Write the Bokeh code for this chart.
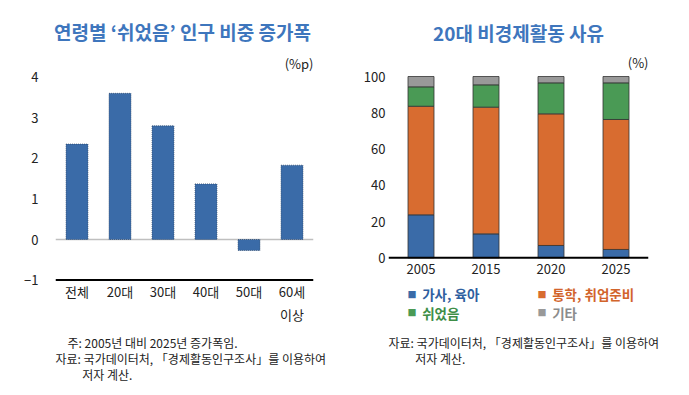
from bokeh.plotting import figure
from bokeh.layouts import row
from bokeh.models import FixedTicker, Label, ColumnDataSource
from bokeh.embed import file_html
from bokeh.resources import INLINE

FONT = "Noto Sans CJK KR"
TITLE_COLOR = "#3E76BD"

# ---- left chart data ----
ages = ["전체", "20대", "30대", "40대", "50대", "60세\n이상"]
change = [2.35, 3.6, 2.8, 1.37, -0.27, 1.83]
left_ticks = [-1, 0, 1, 2, 3, 4]

# ---- right chart data ----
years = ["2005", "2015", "2020", "2025"]
housework = [23.7, 13.2, 6.8, 4.6]
jobprep = [59.9, 69.9, 72.6, 71.7]
rested = [10.7, 12.3, 17.1, 20.2]
other = [5.7, 4.6, 3.5, 3.5]
right_ticks = [0, 20, 40, 60, 80, 100]
series_names = ["가사, 육아", "통학, 취업준비", "쉬었음", "기타"]
series_colors = ["#3A6BA8", "#D86C30", "#4A9A55", "#999999"]
legend_text_colors = ["#2F5F9F", "#D2642B", "#3E8E47", "#8C8C8C"]

BORDERS = dict(min_border_left=55, min_border_right=20,
               min_border_top=45, min_border_bottom=65)


def style_axes(p, ylab_standoff, xfix, xstandoff):
    p.outline_line_color = None
    p.xgrid.visible = False
    p.ygrid.visible = False
    for ax in (p.xaxis[0], p.yaxis[0]):
        ax.major_tick_line_color = None
        ax.minor_tick_line_color = None
        ax.major_tick_out = 0
        ax.major_tick_in = 0
        ax.axis_line_color = None
        ax.major_label_text_font = FONT
        ax.major_label_text_font_size = "13px"
        ax.major_label_text_color = "#222222"
    p.yaxis[0].major_label_standoff = ylab_standoff
    p.xaxis[0].fixed_location = xfix
    p.xaxis[0].major_label_standoff = xstandoff


def add_label(p, x, y, text, size="12px", color="#222222", align="left",
              bold=False, baseline="middle", side=None, line_height=1.2):
    lab = Label(x=x, y=y, text=text, text_font=FONT,
                text_font_size=size, text_color=color,
                text_align=align, text_baseline=baseline,
                text_line_height=line_height,
                text_font_style="bold" if bold else "normal")
    if side is None:
        p.add_layout(lab)
    else:
        p.add_layout(lab, side)


# ================= LEFT =================
p1 = figure(x_range=ages, y_range=(-2.241, 4.778), width=333, height=395,
            output_backend="svg", toolbar_location=None, **BORDERS)
style_axes(p1, 17, -1.55, -20)
p1.yaxis[0].ticker = FixedTicker(ticks=left_ticks)

n1 = len(ages)
p1.segment(x0=[0], x1=[n1], y0=[0], y1=[0], line_color="#BFBFBF",
           line_width=1.5)
p1.segment(x0=[0], x1=[n1], y0=[left_ticks[0]], y1=[left_ticks[0]],
           line_color="black", line_width=2)
src1 = ColumnDataSource(dict(x=ages, top=change))
p1.vbar(x="x", top="top", bottom=0, width=0.51, source=src1,
        fill_color="#3A6BA8", line_color="#2A4466", line_width=0.7,
        line_dash="1 1")

add_label(p1, 2.953, 5.12, "연령별 ‘쉬었음’ 인구 비중 증가폭",
          size="19px", color=TITLE_COLOR, align="center", bold=True,
          side="above")
add_label(p1, 6.0, 4.335, "(%p)", size="13px", align="right")
add_label(p1, 0.0, -2.315,
          "　주: 2005년 대비 2025년 증가폭임.\n"
          "자료: 국가데이터처, 「경제활동인구조사」를 이용하여\n"
          "　　  저자 계산.", baseline="top", side="below",
          line_height=0.97)

# ================= RIGHT =================
p2 = figure(x_range=years, y_range=(-40.1, 117.1), width=335, height=395,
            output_backend="svg", toolbar_location=None, **BORDERS)
style_axes(p2, 3, -14.2, -20)
p2.yaxis[0].ticker = FixedTicker(ticks=right_ticks)

src2 = ColumnDataSource(dict(x=years, a=housework, b=jobprep, c=rested,
                             d=other))
p2.vbar_stack(["a", "b", "c", "d"], x="x", width=0.4, source=src2,
              fill_color=series_colors, line_color="#333333",
              line_width=0.8)
n2 = len(years)
p2.segment(x0=[0], x1=[n2], y0=[0], y1=[0], line_color="black",
           line_width=2)

add_label(p2, 2.0, 124.3, "20대 비경제활동 사유", size="19px",
          color=TITLE_COLOR, align="center", bold=True, side="above")
add_label(p2, 4.0, 107.7, "(%)", size="13px", align="right")

leg_pos = [(0.3615, -20.0), (2.3615, -20.0), (0.3615, -30.2), (2.3615, -30.2)]
for (lx, ly), name, col, tcol in zip(leg_pos, series_names, series_colors,
                                     legend_text_colors):
    add_label(p2, lx, ly, "■", size="9px", color=col, align="center")
    add_label(p2, lx + 0.157, ly, name, size="13.5px", color=tcol, bold=True)

add_label(p2, 0.0, -41.9,
          "자료: 국가데이터처, 「경제활동인구조사」를 이용하여\n"
          "　　  저자 계산.", baseline="top", side="below",
          line_height=0.97)

layout = row(p1, p2, spacing=0)
open("out.html", "w").write(file_html(layout, INLINE))
